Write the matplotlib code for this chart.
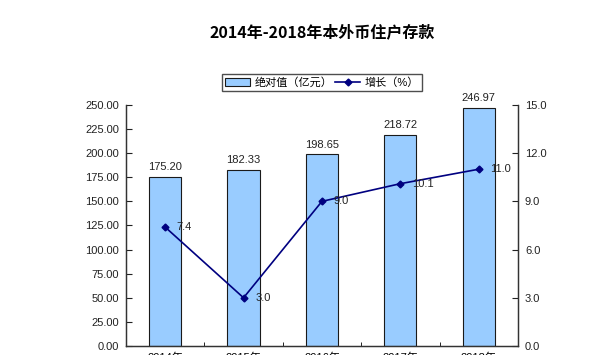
import matplotlib.pyplot as plt
import numpy as np

plt.rcParams['font.family'] = ['Liberation Sans', 'Noto Sans CJK SC', 'DejaVu Sans']

years = ["2014年", "2015年", "2016年", "2017年", "2018年"]
amount = [175.20, 182.33, 198.65, 218.72, 246.97]
growth = [7.4, 3.0, 9.0, 10.1, 11.0]

fig = plt.figure(figsize=(5.94, 3.55), dpi=100)
ax = fig.add_axes([0.212, 0.0254, 0.66, 0.679])
ax2 = ax.twinx()

x = np.arange(len(years))
bars = ax.bar(x, amount, width=0.41, color="#99CCFF", edgecolor="#1a1a1a",
              linewidth=0.8, label="绝对值（亿元）", zorder=2)
for xi, v in zip(x, amount):
    ax.text(xi, v + 5, f"{v:.2f}", ha="center", va="bottom", fontsize=8, color="#222222")

ax.set_xlim(-0.5, len(years) - 0.5)
ax.set_ylim(0, 250)
ax.set_yticks(np.arange(0, 251, 25))
ax.set_yticklabels([f"{v:.2f}" for v in np.arange(0, 251, 25)])
ax.set_xticks(x)
ax.set_xticklabels(years)
ax.set_xticks(np.arange(0.5, len(years) - 0.5, 1), minor=True)
ax.tick_params(axis="x", which="major", length=0, labelsize=8, pad=5)
ax.tick_params(axis="x", which="minor", direction="in", length=3)
ax.tick_params(axis="y", direction="in", length=4, labelsize=8, pad=5, colors="#222222")

line, = ax2.plot(x, growth, color="#000080", marker="D", markersize=3.5,
                 linewidth=1.2, label="增长（%）", zorder=3)
for xi, v in zip(x, growth):
    ax2.text(xi + 0.15, v, f"{v:.1f}", ha="left", va="center", fontsize=8, color="#222222")
ax2.set_ylim(0, 15)
ax2.set_yticks(np.arange(0, 15.1, 3))
ax2.set_yticklabels([f"{v:.1f}" for v in np.arange(0, 15.1, 3)])
ax2.tick_params(axis="y", direction="in", length=4, labelsize=8, pad=5, colors="#222222")

for a in (ax, ax2):
    a.spines["top"].set_visible(False)
    for s in ("left", "right", "bottom"):
        a.spines[s].set_color("#333333")
        a.spines[s].set_linewidth(0.9)

fig.legend(handles=[bars, line], labels=["绝对值（亿元）", "增长（%）"],
           loc="center", bbox_to_anchor=(0.542, 0.768), ncol=2, fontsize=8,
           frameon=True, fancybox=False, edgecolor="#222222", handlelength=2.2,
           handletextpad=0.4, columnspacing=0.3, borderpad=0.3)

fig.text(0.542, 0.91, "2014年-2018年本外币住户存款", ha="center", va="center",
         fontsize=11.5, fontweight="bold", family=["Noto Sans CJK SC", "DejaVu Sans"])

fig.savefig("out.png", dpi=100)
